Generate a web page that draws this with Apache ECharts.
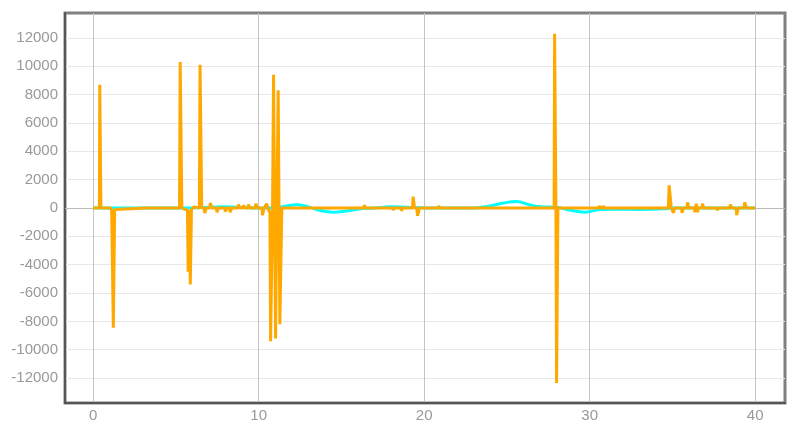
<!DOCTYPE html>
<html>
<head>
<meta charset="utf-8">
<script src="https://cdn.jsdelivr.net/npm/echarts@6/dist/echarts.min.js"></script>
<style>
  html, body { margin: 0; padding: 0; background: #fff; }
  #chart { width: 800px; height: 433px; }
</style>
</head>
<body>
<div id="chart"></div>
<script>
// orange signal (spiky)
const orangeX = [0, 0.38, 0.40, 0.44, 0.47, 1.05, 1.12, 1.19, 1.22, 1.25, 1.3, 1.4, 3.2, 3.25, 3.3, 3.35,
  5.22, 5.26, 5.32, 5.36, 5.42, 5.55, 5.7, 5.74, 5.77, 5.8, 5.84, 5.87, 5.91, 5.94, 6.05, 6.1, 6.15,
  6.42, 6.46, 6.52, 6.56, 6.7, 6.74, 6.8, 6.84, 7.05, 7.08, 7.14, 7.17, 7.45, 7.48, 7.54, 7.57,
  7.95, 7.98, 8.06, 8.09, 8.25, 8.28, 8.34, 8.37, 8.75, 8.78, 8.84, 8.87, 9.05, 9.08, 9.14, 9.17,
  9.35, 9.38, 9.44, 9.47, 9.8, 9.83, 9.9, 9.93, 10.2, 10.23, 10.3, 10.33, 10.45, 10.48, 10.52, 10.55,
  10.68, 10.72, 10.8, 10.84, 10.9, 10.94, 11.02, 11.05, 11.1, 11.18, 11.21, 11.28, 11.31, 11.4, 11.44,
  16.35, 16.38, 16.42, 16.45, 17.75, 17.78, 17.82, 17.85, 18.1, 18.13, 18.17, 18.2, 18.6, 18.63, 18.67,
  18.7, 19.3, 19.33, 19.38, 19.42, 19.55, 19.6, 19.67, 19.72, 20.5, 20.53, 20.57, 20.6, 20.85, 20.88,
  20.92, 20.95, 22.6, 22.63, 22.67, 22.7, 27.85, 27.88, 27.93, 27.96, 28.0, 28.05, 28.08, 30.55,
  30.58, 30.62, 30.65, 30.78, 30.81, 30.85, 30.88, 32.6, 32.63, 32.67, 32.7, 34.75, 34.8, 34.88,
  34.93, 35.03, 35.06, 35.11, 35.14, 35.55, 35.58, 35.63, 35.66, 35.88, 35.91, 35.96, 35.99,
  36.33, 36.36, 36.41, 36.44, 36.47, 36.52, 36.55, 36.78, 36.81, 36.86, 36.89, 37.68, 37.71, 37.76,
  37.79, 38.1, 38.13, 38.17, 38.2, 38.47, 38.5, 38.55, 38.58, 38.85, 38.88, 38.94, 38.97, 39.33,
  39.36, 39.44, 39.47, 40];
const orangeY = [0, 0, 8700, 8700, 0, 0, -150, -150, -8450, -8450, -100, 0, 0, 60, 60, 0,
  0, 10300, 10350, 0, 0, -100, -150, -4500, -4500, -150, -150, -5400, -5400, -100, 0, 80, 0,
  0, 10100, 10100, 0, 0, -350, -350, 0, 0, 350, 350, 0, 0, -300, -300, 0,
  0, -250, -250, 0, 0, -300, -300, 0, 0, 250, 250, 0, 0, 200, 200, 0,
  0, 250, 250, 0, 0, 300, 300, 0, 0, -500, -500, 0, 0, 300, 300, 0,
  -300, -9400, -9400, 0, 9400, 9400, -9200, -9200, 0, 8300, 8300, -8200, -8200, 0, 0,
  0, 200, 200, 0, 0, -100, -100, 0, 0, -150, -150, 0, 0, -200, -200,
  0, 0, 800, 800, 0, 0, -550, -550, 0, 0, 100, 100, 0, 0, 150,
  150, 0, 0, 50, 50, 0, 0, 12300, 12300, 0, -12350, -12350, 0, 0,
  150, 150, 0, 0, 150, 150, 0, 0, 100, 100, 0, 0, 1600, 1600,
  0, 0, -350, -350, 0, 0, -350, -350, 0, 0, 400, 400, 0,
  0, -300, -300, 300, 300, -300, 0, 0, 300, 300, 0, 0, -150, -150,
  0, 0, 100, 100, 0, 0, 250, 250, 0, 0, -500, -500, 0, 0,
  400, 400, 0, 0];

// cyan signal (smooth wave)
const cyanX = [0, 6, 7, 8, 9, 10, 11, 11.6, 12.3, 13, 13.6, 14.5, 15.4, 16, 17, 18, 19, 20,
  23, 23.8, 24.7, 25.6, 26.3, 27, 28, 28.7, 29.7, 30.6, 31.5, 33, 34.5, 35, 40];
const cyanY = [0, 0, 60, 80, 40, 0, 20, 120, 230, 80, -150, -300, -200, -80, 0, 80, 60, 0,
  0, 100, 330, 450, 250, 80, 50, -120, -300, -100, -80, -100, -60, 0, 0];

const xTicks = [0, 10, 20, 30, 40];
const yTicks = [-12000, -10000, -8000, -6000, -4000, -2000, 0, 2000, 4000, 6000, 8000, 10000, 12000];

const myChart = echarts.init(document.getElementById('chart'));
const labelFont = { color: '#999', fontSize: 15, fontFamily: 'Liberation Sans' };

myChart.setOption({
  animation: false,
  grid: {
    left: 65, right: 15, top: 13, bottom: 30,
    show: true,
    borderColor: '#808080',
    borderWidth: 3
  },
  xAxis: {
    type: 'value',
    min: -1.7,
    max: 41.8,
    axisLine: { onZero: false, lineStyle: { color: '#555', width: 2 } },
    axisTick: { show: false, customValues: xTicks },
    axisLabel: Object.assign({ customValues: xTicks, margin: 5, formatter: v => String(v) }, labelFont),
    splitLine: { show: true, lineStyle: { color: '#c4c4c4', width: 1 } }
  },
  yAxis: {
    type: 'value',
    min: -13760,
    max: 13760,
    axisLine: { show: true, onZero: false, lineStyle: { color: '#555', width: 2 } },
    axisTick: { show: false, customValues: yTicks },
    axisLabel: Object.assign({ customValues: yTicks, margin: 7, formatter: v => String(v) }, labelFont),
    splitLine: { show: true, lineStyle: { color: '#e8e8e8', width: 1 } }
  },
  series: [
    {
      type: 'line',
      data: cyanX.map((x, i) => [x, cyanY[i]]),
      smooth: 0.4,
      showSymbol: false,
      z: 3,
      lineStyle: { color: '#00ffff', width: 3 },
      markLine: {
        silent: true,
        z: 1,
        symbol: 'none',
        label: { show: false },
        lineStyle: { color: '#bbb', width: 1, type: 'solid' },
        data: [{ yAxis: 0 }]
      }
    },
    {
      type: 'line',
      data: orangeX.map((x, i) => [x, orangeY[i]]),
      showSymbol: false,
      z: 4,
      lineStyle: { color: '#ffa800', width: 3 }
    }
  ]
});
</script>
</body>
</html>
